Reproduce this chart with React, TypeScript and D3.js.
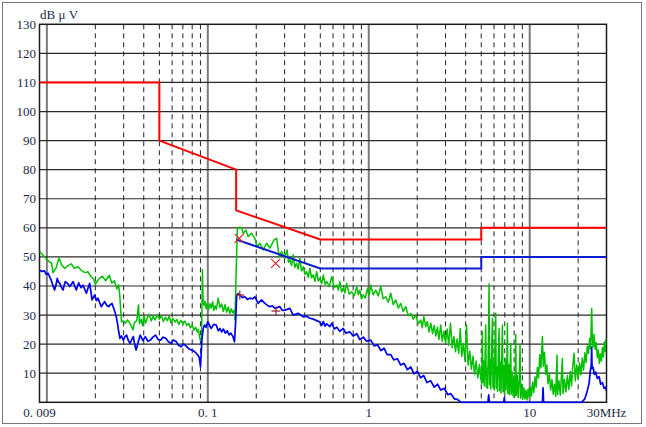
import * as d3 from "d3";

// frequency in MHz, level in dBuV
const redLimit: [number, number][] = [
  [0.009, 110], [0.05, 110], [0.05, 90], [0.15, 80], [0.15, 66],
  [0.5, 56], [5, 56], [5, 60], [30, 60],
];
const blueLimit: [number, number][] = [
  [0.15, 56], [0.5, 46], [5, 46], [5, 50], [30, 50],
];

const greenTrace: [number, number][] = [
  [0.009, 52.0], [0.0093, 51.0], [0.0097, 50.0], [0.01, 49.2], [0.0104, 48.2], [0.0107, 47.9],
  [0.0109, 44.6], [0.0114, 46.2], [0.0119, 49.6], [0.0123, 47.4], [0.0129, 46.0], [0.0136, 47.1],
  [0.0142, 47.6], [0.0148, 46.1], [0.0156, 46.6], [0.0163, 45.5], [0.0172, 44.6], [0.018, 44.9],
  [0.0187, 43.4], [0.0195, 42.4], [0.02, 40.6], [0.021, 42.4], [0.0221, 43.4], [0.0232, 41.8],
  [0.0244, 43.7], [0.0253, 41.0], [0.0263, 41.8], [0.0272, 39.0], [0.0279, 40.4], [0.0284, 36.6],
  [0.0288, 31.0], [0.0291, 27.7], [0.03, 28.0], [0.0308, 27.2], [0.0316, 28.3], [0.0325, 27.5],
  [0.0335, 26.2], [0.0343, 24.9], [0.035, 27.4], [0.0362, 28.1], [0.0371, 33.5], [0.0376, 27.0],
  [0.0385, 28.6], [0.0393, 26.4], [0.04, 29.8], [0.041, 27.2], [0.042, 28.9], [0.0432, 30.3],
  [0.0445, 28.0], [0.0458, 29.6], [0.047, 28.3], [0.0485, 30.1], [0.05, 28.6], [0.0515, 29.8],
  [0.053, 27.8], [0.0545, 29.2], [0.056, 28.1], [0.0575, 29.6], [0.059, 27.3], [0.0607, 28.9],
  [0.0625, 27.6], [0.0642, 28.5], [0.066, 26.8], [0.068, 28.2], [0.07, 27.1], [0.072, 27.9],
  [0.074, 26.4], [0.076, 27.2], [0.078, 25.6], [0.08, 26.5], [0.082, 24.8], [0.084, 25.8],
  [0.086, 24.2], [0.0875, 25.0], [0.0888, 22.6], [0.09, 21.2], [0.0915, 22.4], [0.0926, 45.6],
  [0.0934, 35.2], [0.0945, 33.4], [0.096, 34.8], [0.0975, 32.2], [0.099, 34.0], [0.101, 31.8],
  [0.103, 33.9], [0.105, 32.4], [0.107, 34.6], [0.109, 31.6], [0.111, 33.2], [0.113, 32.0],
  [0.116, 35.8], [0.119, 32.6], [0.122, 33.8], [0.125, 31.2], [0.128, 33.6], [0.131, 31.0],
  [0.134, 32.8], [0.137, 30.6], [0.14, 32.2], [0.143, 30.8], [0.146, 31.6], [0.1475, 28.4],
  [0.15, 45.0], [0.1525, 59.5], [0.157, 60.2], [0.1622, 60.0], [0.166, 58.1], [0.1724, 59.2],
  [0.1781, 57.0], [0.187, 58.1], [0.196, 56.4], [0.2027, 53.5], [0.2106, 54.7], [0.2208, 52.4],
  [0.2319, 54.7], [0.243, 53.0], [0.2573, 55.8], [0.2675, 56.4], [0.2779, 50.0], [0.2875, 51.8],
  [0.3012, 49.5], [0.306, 51.2], [0.311, 52.4], [0.317, 48.2], [0.3235, 49.0], [0.331, 47.0],
  [0.3391, 50.7], [0.347, 46.4], [0.356, 47.8], [0.364, 45.8], [0.3733, 49.5], [0.382, 45.2],
  [0.3915, 46.6], [0.401, 44.0], [0.4111, 44.9], [0.421, 43.0], [0.4307, 46.1], [0.441, 42.8],
  [0.452, 43.8], [0.463, 41.6], [0.4745, 44.9], [0.486, 41.8], [0.497, 42.6], [0.51, 40.8],
  [0.522, 43.8], [0.535, 40.6], [0.548, 41.5], [0.568, 39.8], [0.589, 43.2], [0.61, 39.4],
  [0.633, 40.3], [0.647, 38.6], [0.6616, 41.5], [0.678, 38.0], [0.694, 39.2], [0.711, 37.6],
  [0.729, 40.9], [0.756, 37.2], [0.783, 38.0], [0.812, 36.6], [0.842, 39.8], [0.861, 37.0],
  [0.8806, 38.6], [0.902, 35.6], [0.924, 36.9], [0.952, 35.8], [0.982, 39.2], [1.005, 36.8],
  [1.029, 40.3], [1.066, 37.0], [1.105, 38.6], [1.145, 36.6], [1.187, 39.8], [1.23, 35.6],
  [1.275, 36.3], [1.322, 34.4], [1.37, 37.5], [1.42, 33.6], [1.471, 35.2], [1.525, 32.4],
  [1.58, 34.0], [1.638, 31.2], [1.697, 32.9], [1.76, 29.8], [1.823, 30.6], [1.89, 28.6],
  [1.958, 30.0], [2.03, 27.0], [2.103, 28.3], [2.15, 25.6], [2.2, 29.4], [2.26, 26.0],
  [2.31, 27.8], [2.37, 24.2], [2.43, 27.2], [2.49, 23.6], [2.55, 26.4], [2.61, 22.8],
  [2.67, 25.8], [2.73, 21.6], [2.8, 26.6], [2.86, 21.0], [2.93, 24.4], [3.0, 20.4],
  [3.07, 25.2], [3.14, 19.6], [3.22, 27.2], [3.3, 18.8], [3.38, 22.6], [3.46, 17.4],
  [3.54, 21.8], [3.62, 16.8], [3.7, 25.4], [3.78, 15.8], [3.87, 20.2], [3.96, 14.2],
  [4.05, 26.6], [4.14, 12.8], [4.24, 17.6], [4.34, 11.4], [4.44, 15.8], [4.54, 9.6],
  [4.65, 14.2], [4.76, 8.4], [4.87, 13.0], [4.98, 7.8], [5.04, 6.4], [5.08, 24.3],
  [5.12, 7.0], [5.17, 14.2], [5.22, 5.6], [5.27, 12.4], [5.33, 26.6], [5.37, 5.2],
  [5.42, 11.6], [5.47, 4.8], [5.52, 15.2], [5.59, 40.7], [5.63, 6.0], [5.68, 14.6],
  [5.73, 4.6], [5.8, 18.8], [5.87, 28.9], [5.91, 5.2], [5.96, 13.4], [6.02, 4.2],
  [6.08, 17.6], [6.15, 30.6], [6.19, 4.8], [6.25, 12.2], [6.31, 3.8], [6.38, 16.4],
  [6.45, 25.4], [6.5, 4.0], [6.57, 13.8], [6.63, 3.2], [6.7, 15.6], [6.77, 26.6],
  [6.82, 3.6], [6.9, 12.6], [6.97, 2.8], [7.05, 14.8], [7.12, 4.2], [7.2, 11.2],
  [7.27, 27.2], [7.32, 3.0], [7.4, 13.0], [7.48, 2.6], [7.55, 9.8], [7.62, 20.3],
  [7.68, 2.8], [7.78, 10.4], [7.88, 2.2], [7.98, 8.6], [8.08, 1.8], [8.19, 23.2],
  [8.25, 2.4], [8.36, 9.2], [8.48, 1.6], [8.6, 7.4], [8.71, 19.7], [8.78, 1.4],
  [8.92, 6.2], [9.06, 1.0], [9.2, 5.0], [9.34, 1.2], [9.48, 4.2], [9.62, 0.8],
  [9.78, 4.6], [9.94, 1.6], [10.1, 5.4], [10.26, 2.2], [10.42, 7.0], [10.6, 3.4],
  [10.78, 8.8], [10.96, 5.2], [11.16, 12.0], [11.35, 8.4], [11.55, 16.4], [11.75, 11.8],
  [11.99, 22.6], [12.15, 12.4], [12.35, 17.2], [12.57, 9.6], [12.78, 12.8], [13.0, 6.4],
  [13.25, 9.6], [13.5, 4.2], [13.75, 7.8], [14.0, 2.8], [14.25, 6.2], [14.5, 2.0],
  [14.78, 16.3], [14.9, 2.6], [15.2, 7.4], [15.5, 2.4], [15.96, 15.1], [16.1, 3.0],
  [16.45, 7.8], [16.8, 3.6], [17.14, 9.2], [17.5, 4.4], [17.85, 10.6], [18.2, 5.6],
  [18.5, 12.4], [18.85, 16.9], [19.2, 7.4], [19.6, 12.8], [20.0, 8.2], [20.4, 13.6],
  [20.8, 9.4], [21.2, 15.2], [21.6, 11.0], [22.0, 17.0], [22.4, 13.6], [22.8, 19.4],
  [23.2, 16.8], [23.6, 22.0], [23.9, 18.4], [24.27, 32.3], [24.5, 21.6], [24.8, 19.0],
  [25.1, 23.4], [25.5, 18.2], [25.9, 20.6], [26.3, 15.4], [26.7, 18.0], [27.1, 13.4],
  [27.5, 16.6], [27.9, 14.2], [28.3, 18.8], [28.7, 15.6], [29.1, 20.8], [29.5, 17.4],
  [29.8, 21.6], [30.0, 22.0],
];

const blueTrace: [number, number][] = [
  [0.009, 45.5], [0.0093, 45.0], [0.00966, 45.2], [0.0099, 44.0], [0.01015, 44.4], [0.0104, 43.2],
  [0.01064, 42.0], [0.0109, 40.2], [0.01117, 38.6], [0.0114, 40.4], [0.0116, 42.6], [0.0118, 41.4],
  [0.01203, 40.9], [0.0123, 39.6], [0.01261, 38.6], [0.0128, 40.2], [0.01303, 41.5], [0.0135, 40.8],
  [0.01387, 39.8], [0.0142, 40.6], [0.01454, 41.5], [0.0149, 40.0], [0.01524, 38.6], [0.0155, 39.8],
  [0.01577, 41.1], [0.0163, 39.4], [0.01678, 40.3], [0.0172, 38.8], [0.0176, 37.5], [0.018, 39.2],
  [0.01845, 40.9], [0.0188, 37.8], [0.01907, 35.2], [0.0194, 36.0], [0.01983, 36.9], [0.0203, 35.0],
  [0.02079, 35.8], [0.0213, 34.2], [0.0218, 32.9], [0.0223, 33.8], [0.02285, 34.6], [0.0235, 33.4],
  [0.0242, 32.9], [0.0248, 33.6], [0.02539, 34.0], [0.0259, 32.6], [0.02642, 31.2], [0.0269, 29.8],
  [0.02745, 27.2], [0.0279, 24.6], [0.02844, 22.0], [0.0291, 22.8], [0.02984, 21.4], [0.0306, 22.6],
  [0.03131, 23.1], [0.0321, 21.2], [0.03286, 20.3], [0.0337, 21.6], [0.03446, 22.6], [0.035, 20.4],
  [0.03585, 18.0], [0.037, 20.8], [0.03799, 23.1], [0.0395, 21.2], [0.04088, 22.6], [0.0424, 21.0],
  [0.04398, 21.4], [0.0456, 22.4], [0.04733, 23.1], [0.0491, 21.6], [0.05093, 21.4], [0.0528, 22.4],
  [0.0548, 22.0], [0.0569, 20.8], [0.05897, 20.3], [0.0612, 21.4], [0.06345, 20.9], [0.0658, 19.6],
  [0.06827, 19.1], [0.0708, 20.0], [0.07347, 19.3], [0.0762, 18.4], [0.07905, 18.0], [0.082, 17.6],
  [0.08506, 16.8], [0.0868, 16.2], [0.0885, 15.4], [0.0901, 12.2], [0.0919, 21.4], [0.0935, 25.2],
  [0.0955, 26.6], [0.0975, 25.8], [0.1001, 27.7], [0.1025, 26.4], [0.1049, 25.4], [0.1088, 26.8],
  [0.1128, 26.6], [0.116, 24.6], [0.1189, 25.4], [0.122, 24.2], [0.125, 25.2], [0.1285, 23.8],
  [0.132, 24.6], [0.1355, 23.2], [0.139, 23.8], [0.1432, 22.6], [0.1465, 20.8], [0.149, 28.0],
  [0.151, 36.3], [0.1535, 37.4], [0.1582, 36.9], [0.164, 36.0], [0.17, 36.3], [0.176, 35.4],
  [0.1826, 35.8], [0.19, 35.6], [0.1961, 36.3], [0.2055, 34.0], [0.2157, 35.2], [0.2262, 34.0],
  [0.234, 33.4], [0.243, 32.9], [0.252, 33.2], [0.261, 32.3], [0.2804, 32.9], [0.29, 31.6],
  [0.3012, 31.7], [0.3235, 32.3], [0.3391, 30.0], [0.364, 30.6], [0.3915, 29.4], [0.41, 29.6],
  [0.4307, 28.9], [0.452, 28.6], [0.4745, 28.1], [0.497, 27.6], [0.51, 26.4], [0.522, 27.8],
  [0.535, 26.2], [0.548, 27.0], [0.5734, 26.0], [0.59, 27.2], [0.61, 25.2], [0.633, 25.8],
  [0.66, 24.4], [0.694, 25.4], [0.72, 23.8], [0.7633, 24.2], [0.8, 22.8], [0.842, 23.6],
  [0.88, 21.6], [0.924, 22.4], [0.97, 21.0], [1.029, 21.4], [1.08, 19.4], [1.132, 19.8],
  [1.19, 17.8], [1.245, 18.6], [1.3, 16.4], [1.37, 16.4], [1.43, 14.6], [1.506, 15.0],
  [1.58, 12.8], [1.657, 13.4], [1.74, 11.2], [1.823, 12.2], [1.91, 9.8], [2.006, 10.6],
  [2.1, 8.4], [2.195, 9.2], [2.3, 6.8], [2.427, 7.4], [2.55, 5.2], [2.68, 6.2],
  [2.8, 4.2], [2.95, 4.8], [3.1, 2.6], [3.23, 3.0], [3.4, 1.2], [3.56, 1.0],
  [3.73, 0], [5.5, 0], [5.56, 2.6], [5.62, 0], [6.9, 0], [6.95, 1.6], [7.0, 0],
  [12.0, 0], [12.1, 5.0], [12.2, 0], [21.0, 0], [22.0, 1.2], [22.8, 4.0], [23.4, 6.6],
  [23.8, 11.0], [24.1, 12.4], [24.27, 19.0], [24.4, 11.6], [24.8, 12.0], [25.2, 9.6],
  [25.7, 10.4], [26.3, 8.2], [27.0, 8.8], [27.6, 6.2], [28.3, 6.8], [29.0, 4.8],
  [29.6, 5.2], [30.0, 4.0],
];

const qpMarks: [number, number][] = [[0.1566, 56.4], [0.264, 47.8]];
const avMarks: [number, number][] = [[0.158, 36.9], [0.265, 31.4]];

const yTicks = [10, 20, 30, 40, 50, 60, 70, 80, 90, 100, 110, 120, 130];
const hGrid = [10, 20, 30, 40, 50, 60, 70, 80, 90, 100, 110, 120];
const decadeLines = [0.01, 0.1, 1, 10];
const minorLines = [
  0.02, 0.03, 0.04, 0.05, 0.06, 0.07, 0.08, 0.09,
  0.2, 0.3, 0.4, 0.5, 0.6, 0.7, 0.8, 0.9,
  2, 3, 4, 5, 6, 7, 8, 9, 20,
];
const xLabels: [number, string][] = [
  [0.009, "0. 009"], [0.1, "0. 1"], [1, "1"], [10, "10"], [30, "30MHz"],
];

const W = 646;
const H = 427;
const left = 39.5;
const right = 606.5;
const top = 24.3;
const bottom = 402.3;
const font = "'Liberation Serif', 'DejaVu Serif', serif";
const labelColor = "#1c2a4a";

export default function App() {
  const x = d3.scaleLog().domain([0.009, 30]).range([left, right]);
  const y = d3.scaleLinear().domain([0, 130]).range([bottom, top]);
  const line = d3
    .line<[number, number]>()
    .x((d) => x(d[0]))
    .y((d) => y(d[1]));

  return (
    <svg
      width={W}
      height={H}
      style={{ position: "absolute", left: 0, top: 0, display: "block", background: "#fff" }}
    >
      <defs>
        <clipPath id="plot">
          <rect x={left} y={top} width={right - left} height={bottom - top + 1.2} />
        </clipPath>
      </defs>
      <rect x={2.5} y={2.5} width={639} height={421} fill="#fff" stroke="#777" strokeWidth={1} />

      {/* grid */}
      {minorLines.map((f) => (
        <line key={"m" + f} x1={x(f)} x2={x(f)} y1={top} y2={bottom}
          stroke="#222" strokeWidth={1} strokeDasharray="5,4" />
      ))}
      {decadeLines.map((f) => (
        <line key={"d" + f} x1={x(f)} x2={x(f)} y1={top} y2={bottom}
          stroke="#7a7a7a" strokeWidth={2} />
      ))}
      {hGrid.map((v) => (
        <line key={"h" + v} x1={left} x2={right} y1={y(v)} y2={y(v)}
          stroke="#2a2a2a" strokeWidth={1.2} />
      ))}

      {/* plot frame */}
      <rect x={left} y={top} width={right - left} height={bottom - top}
        fill="none" stroke="#1a1a1a" strokeWidth={1.5} />

      {/* traces */}
      <g clipPath="url(#plot)" fill="none">
        <path d={line(greenTrace) ?? ""} stroke="#00c000" strokeWidth={1.5} strokeLinejoin="round" />
        <path d={line(blueTrace) ?? ""} stroke="#0000f0" strokeWidth={1.7} strokeLinejoin="round" />
        <path d={line(redLimit) ?? ""} stroke="#ff0000" strokeWidth={2} />
        <path d={line(blueLimit) ?? ""} stroke="#0a1ecf" strokeWidth={2} />
      </g>

      {/* markers */}
      {qpMarks.map(([f, v], i) => (
        <g key={"q" + i} stroke="#ff2020" strokeWidth={1.2}>
          <line x1={x(f) - 4.5} x2={x(f) + 4.5} y1={y(v) - 4.5} y2={y(v) + 4.5} />
          <line x1={x(f) - 4.5} x2={x(f) + 4.5} y1={y(v) + 4.5} y2={y(v) - 4.5} />
        </g>
      ))}
      {avMarks.map(([f, v], i) => (
        <g key={"a" + i} stroke="#9a3030" strokeWidth={1.3}>
          <line x1={x(f) - 4.5} x2={x(f) + 4.5} y1={y(v)} y2={y(v)} />
          <line x1={x(f)} x2={x(f)} y1={y(v) - 4.5} y2={y(v) + 4.5} />
        </g>
      ))}

      {/* labels */}
      {yTicks.map((v) => (
        <text key={"y" + v} x={36} y={y(v) + 4.5} textAnchor="end"
          fontFamily={font} fontSize={13} fill={labelColor}>
          {v}
        </text>
      ))}
      {xLabels.map(([f, t]) => (
        <text key={"x" + t} x={x(f)} y={417} textAnchor="middle"
          fontFamily={font} fontSize={13} fill={labelColor}>
          {t}
        </text>
      ))}
      <text x={40} y={19} fontFamily={font} fontSize={13} fill={labelColor}>
        dB μ V
      </text>
    </svg>
  );
}
